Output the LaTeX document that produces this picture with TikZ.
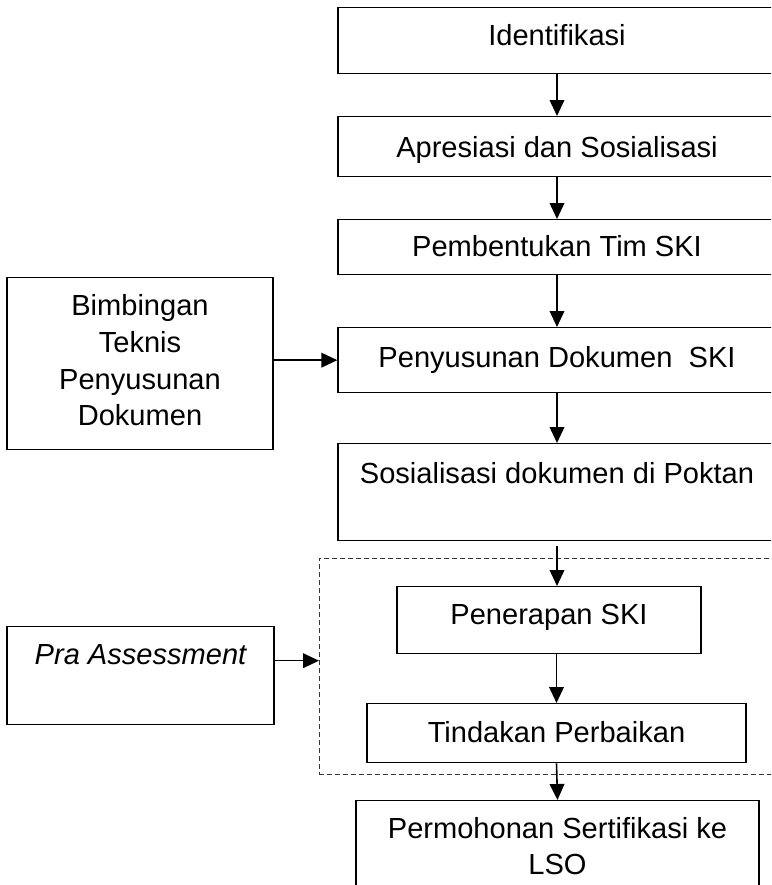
\documentclass[tikz,border=0pt]{standalone}
\usepackage{fontspec}
\setmainfont{Liberation Sans}
\usetikzlibrary{arrows.meta}
\begin{document}
\begin{tikzpicture}[x=0.75pt,y=-0.75pt,
  box/.style={draw, line width=1pt, inner sep=0pt, anchor=north, font=\fontsize{21.8pt}{26.5pt}\selectfont},
  grpbox/.style={draw=black!80, line width=0.7pt, dash pattern=on 3.75pt off 2.25pt, inner sep=0pt, anchor=north west},
  arr/.style={line width=1.2pt, -{Triangle[length=12pt,width=11pt]}},
]
\useasboundingbox (0,0) rectangle (771,885);
\clip (0,0) rectangle (771,885);

\node[grpbox, minimum width=360.75pt, minimum height=162pt] (grp) at (319,558) {};

\node[box, minimum width=328.5pt, text height=28.5pt, text depth=21pt] (idf) at (557,7) {Identifikasi};
\node[box, minimum width=328.5pt, text height=30.75pt, text depth=14.25pt] (apr) at (557,116) {Apresiasi dan Sosialisasi};
\node[box, minimum width=328.5pt, text height=27.75pt, text depth=13.5pt] (tim) at (557,219) {Pembentukan Tim SKI};
\node[box, minimum width=328.5pt, text height=30pt, text depth=18.75pt] (pyn) at (557,327) {Penyusunan Dokumen~ SKI};
\node[box, minimum width=328.5pt, text height=30pt, text depth=42.75pt] (sos) at (557,443) {Sosialisasi dokumen di Poktan};
\node[box, minimum width=228pt, text height=28.5pt, text depth=21.75pt] (pen) at (549,586) {Penerapan SKI};
\node[box, minimum width=284.25pt, text height=29.25pt, text depth=15pt] (tin) at (556.5,703) {Tindakan Perbaikan};
\node[box, minimum width=302.25pt, text height=28.5pt, text depth=46.5pt] (lso) at (557.5,800) {\parbox[t]{302pt}{\centering Permohonan Sertifikasi ke\\LSO}};

\node[box, minimum width=199.5pt, text height=28.5pt, text depth=100.5pt] (bim) at (140,277) {\parbox[t]{199.5pt}{\centering\baselineskip=27.5pt Bimbingan\\Teknis\\Penyusunan\\Dokumen}};
\node[box, minimum width=200.25pt, text height=28.5pt, text depth=45pt] (pra) at (140.5,626) {\itshape Pra Assessment};

\draw[arr] (idf.south) -- (apr.north);
\draw[arr] (apr.south) -- (tim.north);
\draw[arr] (tim.south) -- (pyn.north);
\draw[arr] (pyn.south) -- (sos.north);
\draw[arr, shorten <=3.75pt] (sos.south) -- (sos.south |- pen.north);
\draw[arr] (pen.south -| tin.north) -- (tin.north);
\draw[arr] (tin.south) -- (lso.north);
\draw[arr] (bim.east |- pyn.west) -- (pyn.west);
\draw[arr] ([yshift=11.25pt]pra.east) coordinate (pa) -- (pa -| grp.west);
\end{tikzpicture}
\end{document}
